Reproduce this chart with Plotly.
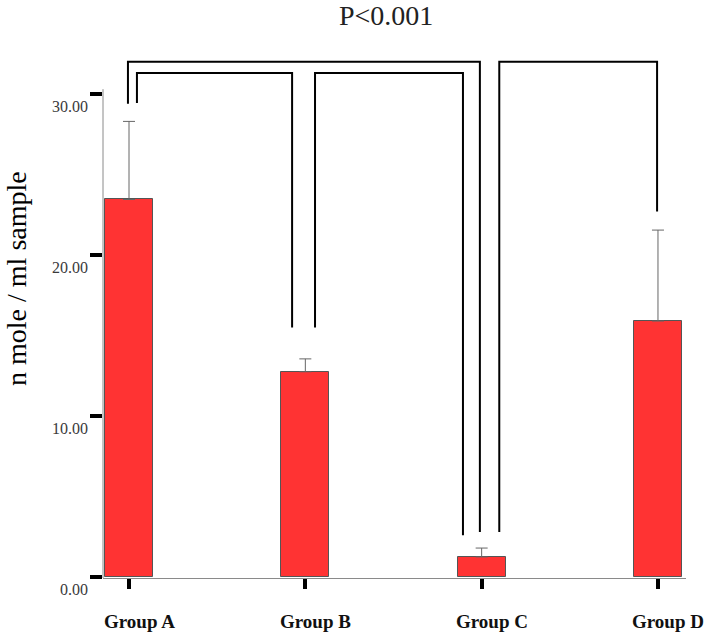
import plotly.graph_objects as go

# data
groups = ["Group A", "Group B", "Group C", "Group D"]
means = [23.45, 12.75, 1.25, 15.9]
sd_upper = [4.85, 0.8, 0.55, 5.65]

y_ticks = [0, 10, 20, 30]
y_tick_labels = ["0.00", "10.00", "20.00", "30.00"]

# significance brackets: (x left, y left foot, x right, y right foot, y top)
brackets = [
    (-0.006, 29.4, 1.99, 2.8, 32.0),
    (0.045, 29.45, 0.925, 15.5, 31.3),
    (1.055, 15.5, 1.894, 2.6, 31.3),
    (2.10, 2.8, 2.995, 22.7, 32.0),
]
p_text = "P<0.001"
y_title = "n mole / ml sample"

FONT = "Liberation Serif"

fig = go.Figure()

x_pos = list(range(len(groups)))

fig.add_trace(go.Bar(
    x=x_pos, y=means,
    width=0.272,
    marker=dict(color="#ff3333", line=dict(color="#555555", width=1)),
    error_y=dict(type="data", symmetric=False, array=sd_upper,
                 arrayminus=[0] * len(means),
                 color="#666666", thickness=1, width=6),
    showlegend=False,
))

for x0, y0, x1, y1, top in brackets:
    fig.add_trace(go.Scatter(
        x=[x0, x0, x1, x1], y=[y0, top, top, y1],
        mode="lines", line=dict(color="black", width=2),
        hoverinfo="skip", showlegend=False,
    ))

# y axis line only reaches just above the 30 tick
fig.add_shape(type="line", xref="x domain", yref="y",
              x0=0, x1=0, y0=-0.06, y1=30.3,
              line=dict(color="#8a8a8a", width=1))

for v, lab in zip(y_ticks, y_tick_labels):
    fig.add_annotation(x=0, xref="paper", y=v, yref="y", text=lab,
                       showarrow=False, xanchor="right", yanchor="middle",
                       xshift=-13, yshift=-12,
                       font=dict(family=FONT, size=16, color="#3a3a3a"))

for x, g in zip(x_pos, groups):
    fig.add_annotation(x=x, xref="x", y=0, yref="paper", text="<b>%s</b>" % g,
                       showarrow=False, xanchor="center", yanchor="middle",
                       xshift=10, yshift=-43,
                       font=dict(family=FONT, size=19, color="#111111"))

fig.add_annotation(x=1.46, xref="x", y=1, yref="paper", text=p_text,
                   showarrow=False, xanchor="center", yanchor="middle",
                   yshift=42, font=dict(family=FONT, size=28, color="#222222"))

fig.add_annotation(x=0, xref="paper", y=0.574, yref="paper", text=y_title,
                   textangle=-90, showarrow=False,
                   xanchor="center", yanchor="middle", xshift=-86,
                   font=dict(family=FONT, size=28, color="black"))

fig.update_layout(
    width=716, height=637,
    margin=dict(l=103, r=30, t=57, b=59),
    plot_bgcolor="white", paper_bgcolor="white",
    bargap=0,
    font=dict(family=FONT),
)

fig.update_xaxes(
    range=[-0.1475, 3.159],
    tickvals=x_pos, showticklabels=False,
    ticks="outside", ticklen=10, tickwidth=4, tickcolor="black",
    showline=True, linecolor="#8a8a8a", linewidth=1,
    showgrid=False, zeroline=False,
)

fig.update_yaxes(
    range=[-0.06, 32.3],
    tickvals=y_ticks, showticklabels=False,
    ticks="outside", ticklen=12, tickwidth=4, tickcolor="black",
    showline=False, showgrid=False, zeroline=False,
)

fig.write_html("out.html",
               config={"displayModeBar": False},
               post_script="document.body.style.margin='0';"
                           "document.body.style.overflow='hidden';")
